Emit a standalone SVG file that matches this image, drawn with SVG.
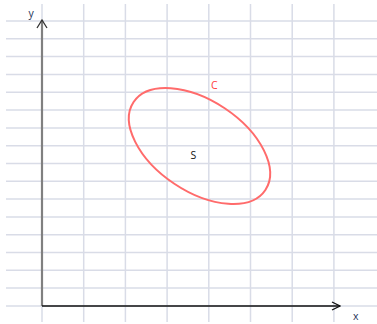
<svg xmlns="http://www.w3.org/2000/svg" width="377" height="324" viewBox="0 0 377 324">
<style>
.grid line{stroke:#d9dce7;stroke-width:1.5}
.lbl{font-family:"Open Sans","Liberation Sans",Arial,sans-serif;font-size:10.5px}
</style>
<defs>
<marker id="arr" viewBox="0 0 10 10" refX="9" refY="5" markerWidth="10" markerHeight="10" markerUnits="userSpaceOnUse" orient="auto">
<path d="M1,1 L9,5 L1,9" fill="none" stroke="#111" stroke-width="1.3"/>
</marker>
<marker id="arrY" viewBox="0 0 12 12" refX="11" refY="6" markerWidth="12" markerHeight="12" markerUnits="userSpaceOnUse" orient="auto">
<path d="M3,1 L11,6 L3,11" fill="none" stroke="#333" stroke-width="1.3"/>
</marker>
</defs>
<rect width="377" height="324" fill="#fff"/>
<g class="grid">
<line x1="6" y1="21" x2="377" y2="21"/>
<line x1="6" y1="38.8" x2="377" y2="38.8"/>
<line x1="6" y1="56.6" x2="377" y2="56.6"/>
<line x1="6" y1="74.4" x2="377" y2="74.4"/>
<line x1="6" y1="92.2" x2="377" y2="92.2"/>
<line x1="6" y1="110" x2="377" y2="110"/>
<line x1="6" y1="127.9" x2="377" y2="127.9"/>
<line x1="6" y1="145.7" x2="377" y2="145.7"/>
<line x1="6" y1="163.5" x2="377" y2="163.5"/>
<line x1="6" y1="181.3" x2="377" y2="181.3"/>
<line x1="6" y1="199.1" x2="377" y2="199.1"/>
<line x1="6" y1="216.9" x2="377" y2="216.9"/>
<line x1="6" y1="234.7" x2="377" y2="234.7"/>
<line x1="6" y1="252.5" x2="377" y2="252.5"/>
<line x1="6" y1="270.3" x2="377" y2="270.3"/>
<line x1="6" y1="288.1" x2="377" y2="288.1"/>
<line x1="6" y1="306" x2="377" y2="306"/>
<line x1="42" y1="4" x2="42" y2="322"/>
<line x1="83.7" y1="4" x2="83.7" y2="322"/>
<line x1="125.4" y1="4" x2="125.4" y2="322"/>
<line x1="167.1" y1="4" x2="167.1" y2="322"/>
<line x1="208.8" y1="4" x2="208.8" y2="322"/>
<line x1="250.5" y1="4" x2="250.5" y2="322"/>
<line x1="292.2" y1="4" x2="292.2" y2="322"/>
<line x1="333.9" y1="4" x2="333.9" y2="322"/>
</g>
<g id="axes">
<line id="y-axis" x1="42" y1="306" x2="42" y2="20" stroke="#808080" stroke-width="2.2" marker-end="url(#arrY)"/>
<line id="x-axis" x1="42" y1="306" x2="340" y2="306" stroke="#111" stroke-width="1.4" marker-end="url(#arr)"/>
</g>
<g id="curve-C">
<ellipse cx="199.5" cy="146" rx="79.2" ry="45.4" transform="rotate(33.7 199.5 146)" fill="none" stroke="#ff6b6b" stroke-width="2"/>
</g>
<g id="labels">
<text class="lbl" x="28.5" y="17" fill="#1f3357">y</text>
<text class="lbl" x="353" y="320" fill="#1f3357">x</text>
<text class="lbl" x="211" y="89" fill="#ff3b3b">C</text>
<text class="lbl" x="190.5" y="159" fill="#111">S</text>
</g>
</svg>
